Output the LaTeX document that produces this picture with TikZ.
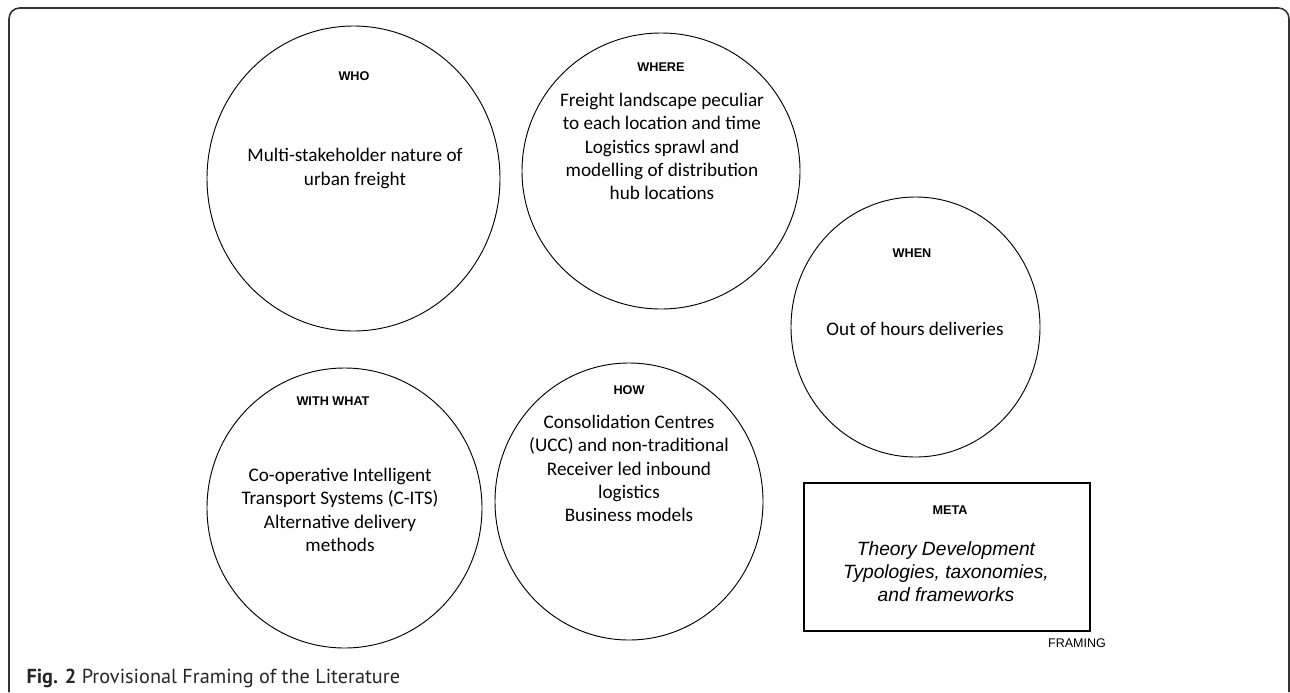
\documentclass[tikz,border=0pt]{standalone}
\usepackage{fontspec}
\setmainfont{Carlito}
\newfontfamily\helvfont{Liberation Sans}
\newfontfamily\capfont{PT Sans}
\usetikzlibrary{shapes.geometric}

\tikzset{every picture/.style={line width=0.75pt}}
\tikzset{
  topic/.style={draw, ellipse, inner sep=0pt, line width=0.7pt},
  heading/.style={font=\helvfont\bfseries\fontsize{9.5}{11}\selectfont},
  body/.style={align=center, font=\fontsize{14.4}{17.5}\selectfont},
}

\begin{document}
\begin{tikzpicture}[x=0.75pt,y=0.75pt,yscale=-1,xscale=1]
\useasboundingbox (0,0) rectangle (1290,693);

%Shape: Rounded Rect [id:frame]
\draw [color=black!80, line width=1.2pt, rounded corners=8pt] (9,692) -- (9,8) -- (1289,8) -- (1289,692) ;

%Shape: Ellipse [id:who]
\draw (353.5,178.5) node (whoCirc) [topic, minimum width=293*0.75pt, minimum height=305*0.75pt] {};
%Shape: Ellipse [id:where]
\draw (661,171) node (whereCirc) [topic, minimum width=278*0.75pt, minimum height=276*0.75pt] {};
%Shape: Ellipse [id:when]
\draw (915.5,327) node (whenCirc) [topic, minimum width=249*0.75pt, minimum height=260*0.75pt] {};
%Shape: Ellipse [id:withwhat]
\draw (344.5,508) node (withCirc) [topic, minimum width=275*0.75pt, minimum height=280*0.75pt] {};
%Shape: Ellipse [id:how]
\draw (629,501.5) node (howCirc) [topic, minimum width=268*0.75pt, minimum height=277*0.75pt] {};
%Shape: Rectangle [id:meta]
\draw [line width=0.8pt] (804,483) -- (1090,483) -- (1090,631) -- (804,631) -- cycle ;

% Text Node
\draw (354,76.5) node (whoLbl) [heading] {WHO};
% Text Node
\draw (355,168.5) node (whoTxt) [body] {Multi-stakeholder nature of\\urban freight};
% Text Node
\draw (661,67) node (whereLbl) [heading] {WHERE};
% Text Node
\draw (662,146.5) node (whereTxt) [body] {Freight landscape peculiar\\to each location and time\\Logistics sprawl and\\modelling of distribution\\hub locations};
% Text Node
\draw (912,253) node (whenLbl) [heading] {WHEN};
% Text Node
\draw (915,329) node (whenTxt) [body] {Out of hours deliveries};
% Text Node
\draw (333,401) node (withLbl) [heading] {WITH WHAT};
% Text Node
\draw (340,510) node (withTxt) [body] {Co-operative Intelligent\\Transport Systems (C-ITS)\\Alternative delivery\\methods};
% Text Node
\draw (629,390) node (howLbl) [heading] {HOW};
% Text Node
\draw (629,468.5) node (howTxt) [body] {Consolidation Centres\\(UCC) and non-traditional\\Receiver led inbound\\logistics\\Business models};
% Text Node
\draw (950,510) node (metaLbl) [heading] {META};
% Text Node
\draw (946,572) node (metaTxt) [align=center, font=\helvfont\itshape\fontsize{14.4}{17.3}\selectfont] {Theory Development\\Typologies, taxonomies,\\and frameworks};
% Text Node
\draw (1077,643) node (framLbl) [font=\helvfont\fontsize{9.4}{11}\selectfont] {FRAMING};
% Text Node
\draw (26,683) node (caption) [anchor=base west, inner sep=0pt, color=black!85, font=\capfont\fontsize{15.2}{17}\selectfont] {\textbf{Fig. 2} Provisional Framing of the Literature};

\end{tikzpicture}
\end{document}
